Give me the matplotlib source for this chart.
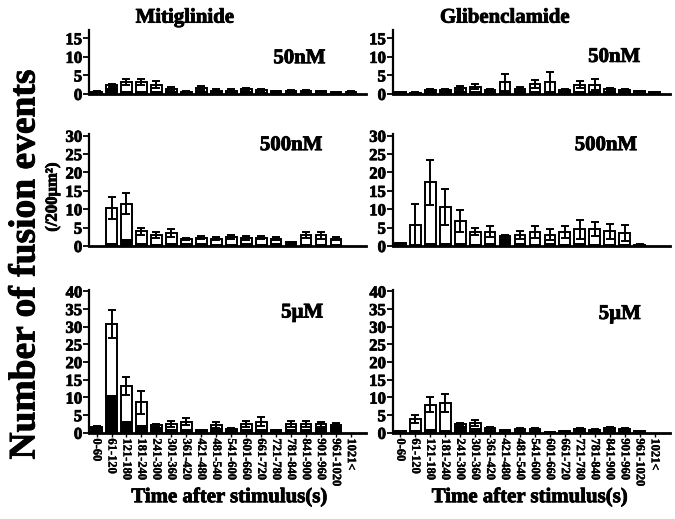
import numpy as np
import matplotlib
matplotlib.use("Agg")
import matplotlib.pyplot as plt
import matplotlib.patheffects as pe

plt.rcParams['font.family'] = ['Liberation Serif', 'DejaVu Serif']
plt.rcParams['font.weight'] = 'bold'

bins = ['0-60', '61-120', '121-180', '181-240', '241-300', '301-360',
        '361-420', '421-480', '481-540', '541-600', '601-660', '661-720',
        '721-780', '781-840', '841-900', '901-960', '961-1020', '1021<']

# total events (white top + black bottom), black part, error of total
miti_50_total = [0.6, 2.3, 3.2, 3.2, 2.5, 1.4, 0.6, 1.6, 0.9, 0.9, 1.2, 1.1, 0.7, 0.8, 0.8, 0.7, 0.4, 0.6]
miti_50_black = [0.5, 1.2, 0.5, 0.5, 0.4, 0.5, 0.5, 0.5, 0.6, 0.6, 0.6, 0.3, 0.5, 0.5, 0.5, 0.5, 0.3, 0.5]
miti_50_err = [0.2, 0.5, 0.7, 0.8, 1.0, 0.4, 0.2, 0.5, 0.3, 0.3, 0.4, 0.3, 0.2, 0.3, 0.3, 0.2, 0.1, 0.2]

gli_50_total = [0.4, 0.3, 1.1, 1.1, 1.6, 2.0, 1.0, 3.2, 1.4, 2.7, 3.2, 1.0, 2.5, 2.5, 1.2, 1.0, 0.7, 0.4]
gli_50_black = [0.3, 0.2, 0.7, 0.7, 0.5, 0.6, 0.6, 0.5, 0.6, 0.5, 0.5, 0.6, 0.5, 0.5, 0.5, 0.5, 0.5, 0.3]
gli_50_err = [0.1, 0.1, 0.3, 0.3, 0.6, 0.7, 0.3, 2.3, 0.5, 1.0, 2.8, 0.3, 1.0, 1.4, 0.4, 0.3, 0.2, 0.1]

miti_500_total = [0, 10.3, 11.5, 4.0, 3.1, 3.6, 1.8, 2.2, 2.0, 2.5, 2.2, 2.2, 2.0, 1.0, 2.9, 2.9, 2.0, 0]
miti_500_black = [0, 0.5, 1.5, 0.6, 0.4, 0.5, 0.6, 0.5, 0.4, 0.4, 0.5, 0.4, 0.6, 0.5, 0.4, 0.4, 0.4, 0]
miti_500_err = [0, 3.0, 2.8, 1.0, 0.8, 1.1, 0.3, 0.4, 0.5, 0.6, 0.5, 0.4, 0.4, 0.2, 0.8, 0.9, 0.4, 0]

gli_500_total = [0.7, 5.8, 17.3, 10.6, 6.7, 3.9, 3.9, 2.7, 3.1, 3.9, 3.1, 3.8, 4.5, 4.5, 4.0, 3.6, 0.4, 0]
gli_500_black = [0.6, 0.3, 0.5, 0.6, 0.5, 0.4, 0.5, 1.5, 0.5, 0.4, 0.5, 0.4, 0.5, 0.4, 0.4, 0.4, 0.3, 0]
gli_500_err = [0.2, 5.7, 6.2, 4.9, 3.0, 1.0, 1.5, 0.4, 1.1, 1.6, 1.6, 1.6, 2.7, 1.9, 2.1, 2.2, 0.1, 0]

miti_5u_total = [1.6, 30.8, 13.3, 8.6, 2.1, 2.5, 3.2, 0.7, 2.3, 1.2, 2.5, 3.2, 0.7, 2.5, 2.5, 2.4, 2.3, 0]
miti_5u_black = [1.4, 10.4, 3.2, 1.8, 1.5, 0.8, 0.7, 0.5, 1.0, 0.9, 0.7, 0.7, 0.5, 0.7, 0.8, 1.2, 1.5, 0]
miti_5u_err = [0.3, 4.0, 2.5, 3.2, 0.4, 0.9, 1.1, 0.2, 0.9, 0.3, 0.9, 1.3, 0.2, 0.9, 0.9, 0.7, 0.5, 0]

gli_5u_total = [0.5, 3.9, 7.9, 8.5, 2.5, 2.7, 1.4, 0.7, 1.1, 1.1, 0.2, 0.5, 1.2, 0.9, 1.5, 1.2, 0.5, 0]
gli_5u_black = [0.4, 0.6, 0.9, 0.6, 1.6, 1.2, 0.6, 0.6, 0.9, 0.9, 0.2, 0.4, 1.0, 0.8, 1.3, 1.0, 0.4, 0]
gli_5u_err = [0.1, 1.1, 2.1, 2.6, 0.4, 0.8, 0.2, 0.1, 0.2, 0.2, 0.05, 0.1, 0.2, 0.2, 0.2, 0.2, 0.1, 0]

panels = [
    [(miti_50_total, miti_50_black, miti_50_err, '50nM', 17.2, [0, 5, 10, 15]),
     (gli_50_total, gli_50_black, gli_50_err, '50nM', 17.2, [0, 5, 10, 15])],
    [(miti_500_total, miti_500_black, miti_500_err, '500nM', 30.5, range(0, 31, 5)),
     (gli_500_total, gli_500_black, gli_500_err, '500nM', 30.5, range(0, 31, 5))],
    [(miti_5u_total, miti_5u_black, miti_5u_err, '5\u00b5M', 40.5, range(0, 41, 5)),
     (gli_5u_total, gli_5u_black, gli_5u_err, '5\u00b5M', 40.5, range(0, 41, 5))],
]

# axes rectangles (left, bottom, width, height) in figure fraction
rows = [(0.819, 0.123), (0.526, 0.216), (0.166, 0.276)]
cols = [0.132, 0.582]
label_pos = [[(0.76, 0.56), (0.80, 0.58)],
             [(0.73, 0.90), (0.77, 0.90)],
             [(0.77, 0.84), (0.82, 0.83)]]

# thicken the serif glyphs a little, like the scanned original
heavy = [pe.withStroke(linewidth=0.6, foreground='black')]
light = [pe.withStroke(linewidth=0.25, foreground='black')]

fig = plt.figure(figsize=(6.75, 5.19), dpi=100)
x = np.arange(len(bins))

for r, (bottom, height) in enumerate(rows):
    for c, left in enumerate(cols):
        total, black, err, conc, ymax, yt = panels[r][c]
        ax = fig.add_axes([left, bottom, 0.41, height])
        total = np.array(total)
        black = np.array(black)
        err = np.array(err)
        show = total > 0
        ax.bar(x[show], total[show] - black[show], bottom=black[show], width=0.72,
               color='white', edgecolor='black', linewidth=1.4, zorder=2)
        ax.bar(x[show], black[show], width=0.72, color='black',
               edgecolor='black', linewidth=1.4, zorder=2)
        ax.errorbar(x[show], total[show], yerr=err[show], fmt='none',
                    ecolor='black', elinewidth=1.4, capsize=3.2, capthick=1.4, zorder=3)
        ax.set_xlim(-0.5, 18.0)
        ax.set_ylim(0, ymax)
        ax.set_yticks(list(yt))
        for side in ['top', 'right']:
            ax.spines[side].set_visible(False)
        ax.spines['left'].set_linewidth(1.6)
        ax.spines['bottom'].set_linewidth(2.0)
        ax.tick_params(axis='y', direction='out', length=4, width=1.3, pad=1,
                       labelsize=12)
        ax.set_xticks(x)
        if r == 2:
            ax.tick_params(axis='x', direction='out', length=3, width=1.0, pad=1)
            ax.set_xticklabels(bins, rotation=270, fontsize=9, fontweight='bold')
        else:
            ax.tick_params(axis='x', length=0, labelbottom=False)
        for lab in ax.get_yticklabels():
            lab.set_fontweight('bold')
            lab.set_path_effects(heavy)
        for lab in ax.get_xticklabels():
            lab.set_path_effects(light)
        lx, ly = label_pos[r][c]
        ax.text(lx, ly, conc, transform=ax.transAxes, ha='center', va='center',
                fontsize=15, fontweight='bold', path_effects=heavy)

fig.text(0.274, 0.966, 'Mitiglinide', ha='center', va='center', fontsize=15,
         fontweight='bold', path_effects=heavy)
fig.text(0.748, 0.966, 'Glibenclamide', ha='center', va='center', fontsize=15,
         fontweight='bold', path_effects=heavy)
fig.text(0.037, 0.49, 'Number of fusion events', rotation=90, ha='center', va='center',
         fontsize=27, fontweight='bold', path_effects=heavy)
fig.text(0.078, 0.62, '(/200\u00b5m\u00b2)', rotation=90, ha='center', va='center',
         fontsize=12, fontweight='bold', path_effects=heavy)
fig.text(0.34, 0.042, 'Time after stimulus(s)', ha='center', va='center',
         fontsize=15, fontweight='bold', path_effects=heavy)
fig.text(0.785, 0.042, 'Time after stimulus(s)', ha='center', va='center',
         fontsize=15, fontweight='bold', path_effects=heavy)

fig.savefig('out.png', dpi=100)
